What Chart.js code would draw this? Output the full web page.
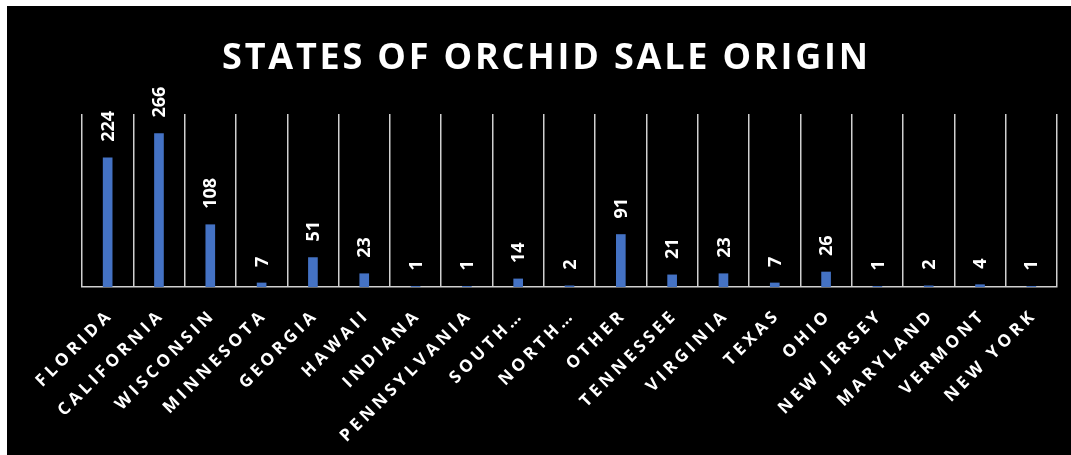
<!DOCTYPE html>
<html>
<head>
<meta charset="utf-8">
<script src="https://cdn.jsdelivr.net/npm/chart.js@4"></script>
<style>
  html, body { margin: 0; padding: 0; background: #ffffff; }
  #wrap { position: absolute; left: 7px; top: 6px; width: 1064px; height: 449px; background: #000000; }
  canvas { display: block; }
</style>
</head>
<body>
<div id="wrap"><canvas id="c" width="1064" height="449"></canvas></div>
<script>
const categories = ["FLORIDA", "CALIFORNIA", "WISCONSIN", "MINNESOTA", "GEORGIA", "HAWAII", "INDIANA", "PENNSYLVANIA", "SOUTH…", "NORTH…", "OTHER", "TENNESSEE", "VIRGINIA", "TEXAS", "OHIO", "NEW JERSEY", "MARYLAND", "VERMONT", "NEW YORK"];
const salesCount = [224, 266, 108, 7, 51, 23, 1, 1, 14, 2, 91, 21, 23, 7, 26, 1, 2, 4, 1];
const chartTitle = "STATES OF ORCHID SALE ORIGIN";

const FONT = "'Open Sans', 'DejaVu Sans', sans-serif";

const spacingPlugin = {
  id: 'spacing',
  beforeDraw(chart) { chart.ctx.letterSpacing = '4px'; },
  beforeDatasetsDraw(chart) { chart.ctx.letterSpacing = '0px'; }
};

const valueLabels = {
  id: 'valueLabels',
  afterDatasetsDraw(chart) {
    const ctx = chart.ctx;
    const meta = chart.getDatasetMeta(0);
    ctx.save();
    ctx.letterSpacing = '0px';
    ctx.fillStyle = '#ffffff';
    ctx.font = "bold 18px " + FONT;
    ctx.textAlign = 'left';
    ctx.textBaseline = 'middle';
    meta.data.forEach((bar, i) => {
      ctx.save();
      ctx.translate(bar.x + 1, bar.y - 16);
      ctx.rotate(-Math.PI / 2);
      ctx.fillText(String(salesCount[i]), 0, 0);
      ctx.restore();
    });
    ctx.restore();
  }
};

const titlePlugin = {
  id: 'customTitle',
  afterDraw(chart) {
    const ctx = chart.ctx;
    ctx.save();
    const sp = 2.8;
    ctx.letterSpacing = sp + 'px';
    ctx.fillStyle = '#ffffff';
    ctx.font = "bold 36px " + FONT;
    ctx.textAlign = 'center';
    ctx.textBaseline = 'alphabetic';
    ctx.fillText(chartTitle, 538 + sp / 2, 63);
    ctx.restore();
  }
};

new Chart(document.getElementById('c'), {
  type: 'bar',
  data: {
    labels: categories,
    datasets: [{
      data: salesCount,
      backgroundColor: '#4472C4',
      borderWidth: 0,
      barThickness: 9
    }]
  },
  options: {
    responsive: false,
    animation: false,
    devicePixelRatio: 1,
    layout: { padding: { left: 75, right: 14, top: 108, bottom: 0 } },
    plugins: {
      legend: { display: false },
      tooltip: { enabled: false },
      title: { display: false }
    },
    scales: {
      x: {
        offset: true,
        grid: { display: true, offset: true, color: '#d0d0d0', lineWidth: 1.5, drawTicks: false },
        border: { display: true, color: '#d0d0d0', width: 1.5 },
        ticks: {
          color: '#ffffff',
          font: { family: FONT, size: 17, weight: 'bold' },
          maxRotation: 45, minRotation: 45,
          autoSkip: false,
          labelOffset: 3,
          padding: 18
        },
        afterFit(scale) { scale.height = 168; }
      },
      y: {
        display: false,
        min: 0, max: 300
      }
    }
  },
  plugins: [spacingPlugin, valueLabels, titlePlugin]
});
</script>
</body>
</html>
